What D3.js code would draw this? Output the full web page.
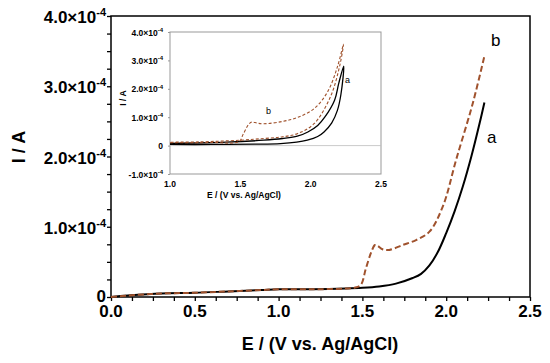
<!DOCTYPE html>
<html>
<head>
<meta charset="utf-8">
<script src="https://cdn.jsdelivr.net/npm/d3@7"></script>
<style>
  body { margin: 0; background: #fff; }
  svg { display: block; }
  text { font-family: "Liberation Sans", Arial, sans-serif; font-weight: bold; fill: #000; }
</style>
</head>
<body>
<div id="vis"></div>
<script>
// main plot, curve a (black) and b (red dashed); current in units of 1e-4 A
var a_E = [0, 0.1, 0.3, 0.5, 0.7, 0.9, 1.0, 1.2, 1.4, 1.5, 1.6, 1.7, 1.8, 1.85, 1.9, 1.95, 2.0, 2.05, 2.1, 2.15, 2.2, 2.228];
var a_I = [0, 0.02, 0.05, 0.06, 0.08, 0.1, 0.11, 0.11, 0.12, 0.13, 0.15, 0.19, 0.27, 0.33, 0.45, 0.64, 0.91, 1.22, 1.58, 2.0, 2.48, 2.77];
var b_E = [0, 0.1, 0.3, 0.5, 0.7, 0.9, 1.0, 1.2, 1.4, 1.45, 1.49, 1.52, 1.55, 1.575, 1.59, 1.62, 1.66, 1.74, 1.82, 1.9, 1.98, 2.06, 2.16, 2.228];
var b_I = [0, 0.02, 0.05, 0.06, 0.08, 0.1, 0.11, 0.11, 0.12, 0.13, 0.17, 0.4, 0.62, 0.74, 0.73, 0.68, 0.67, 0.74, 0.81, 0.93, 1.29, 1.96, 2.77, 3.43];

// inset: full CV loops (forward then reverse)
var ia_E = [1.0, 1.3, 1.6, 1.786, 1.9, 1.976, 2.05, 2.095, 2.15, 2.19, 2.215, 2.235, 2.2, 2.17, 2.1, 2.05, 1.98, 1.905, 1.8, 1.667, 1.4, 1.0];
var ia_I = [0.04, 0.04, 0.05, 0.07, 0.12, 0.19, 0.32, 0.48, 0.8, 1.24, 1.8, 2.8, 2.2, 1.6, 1.0, 0.71, 0.48, 0.33, 0.25, 0.19, 0.12, 0.08];
var ib_E = [1.0, 1.3, 1.49, 1.52, 1.56, 1.583, 1.62, 1.667, 1.8, 1.905, 2.024, 2.12, 2.19, 2.233, 2.21, 2.14, 2.024, 1.905, 1.8, 1.667, 1.5, 1.2, 1.0];
var ib_I = [0.1, 0.11, 0.14, 0.4, 0.75, 0.83, 0.79, 0.77, 0.85, 0.99, 1.30, 1.89, 2.77, 3.57, 2.89, 1.71, 0.77, 0.42, 0.31, 0.25, 0.19, 0.13, 0.12];

var x_ticks = [0, 0.5, 1.0, 1.5, 2.0, 2.5];
var y_ticks = [0, 1, 2, 3, 4];
var ix_ticks = [1.0, 1.5, 2.0, 2.5];
var iy_ticks = [-1, 0, 1, 2, 3, 4];

function zip(xs, ys) { return xs.map(function(v, i) { return [v, ys[i]]; }); }

var width = 550, height = 363;
var svg = d3.select("#vis").append("svg").attr("width", width).attr("height", height);

// ---------- main plot ----------
var x = d3.scaleLinear().domain([0, 2.5]).range([111, 530]);
var y = d3.scaleLinear().domain([0, 4]).range([297, 16]);

// minor ticks
svg.append("g").attr("transform", "translate(0,297)")
  .call(d3.axisBottom(x).tickValues(d3.range(0, 2.5001, 0.125)).tickSize(4).tickFormat(""))
  .call(function(g) { g.select(".domain").remove(); g.selectAll("line").attr("stroke-width", 1.3); });
svg.append("g").attr("transform", "translate(111,0)")
  .call(d3.axisLeft(y).tickValues(d3.range(0, 4.001, 0.25)).tickSize(4).tickFormat(""))
  .call(function(g) { g.select(".domain").remove(); g.selectAll("line").attr("stroke-width", 1.3); });

// frame
svg.append("rect").attr("x", 111).attr("y", 16).attr("width", 419).attr("height", 281)
  .attr("fill", "none").attr("stroke", "#000").attr("stroke-width", 1.5);

// x tick labels
svg.selectAll(".xl").data(x_ticks).enter().append("text")
  .attr("x", function(d) { return x(d); }).attr("y", 317)
  .attr("text-anchor", "middle").style("font-size", "17px")
  .text(function(d) { return d.toFixed(1); });

// y tick labels
y_ticks.forEach(function(d) {
  var t = svg.append("text").attr("x", 106).attr("y", d === 0 ? y(d) + 5 : y(d) + 7)
    .attr("text-anchor", "end").style("font-size", "17px");
  if (d === 0) { t.text("0"); return; }
  t.append("tspan").text(d.toFixed(1) + "\u00d710");
  t.append("tspan").attr("dy", -7).style("font-size", "11px").text("-4");
});

svg.append("text").attr("transform", "translate(25,147) rotate(-90)")
  .attr("text-anchor", "middle").style("font-size", "18px").text("I / A");
svg.append("text").attr("x", 320).attr("y", 350)
  .attr("text-anchor", "middle").style("font-size", "18px").text("E / (V vs. Ag/AgCl)");

var line = d3.line().x(function(d) { return x(d[0]); }).y(function(d) { return y(d[1]); }).curve(d3.curveCatmullRom);

svg.append("path").datum(zip(a_E, a_I)).attr("d", line)
  .attr("fill", "none").attr("stroke", "#000").attr("stroke-width", 2);
svg.append("path").datum(zip(b_E, b_I)).attr("d", line)
  .attr("fill", "none").attr("stroke", "#a0522d").attr("stroke-width", 2).attr("stroke-dasharray", "6,3");

svg.append("text").attr("x", 491).attr("y", 46).style("font-size", "17px").style("font-weight", "normal").text("b");
svg.append("text").attr("x", 487).attr("y", 143).style("font-size", "17px").style("font-weight", "normal").text("a");

// ---------- inset ----------
var ix = d3.scaleLinear().domain([1.0, 2.5]).range([170, 381]);
var iy = d3.scaleLinear().domain([-1, 4]).range([174, 32]);

svg.append("rect").attr("x", 170).attr("y", 32).attr("width", 211).attr("height", 142)
  .attr("fill", "#fff").attr("stroke", "#999").attr("stroke-width", 1);

svg.append("line").attr("x1", ix(1.0)).attr("x2", ix(2.5)).attr("y1", iy(0)).attr("y2", iy(0))
  .attr("stroke", "#bbb").attr("stroke-width", 0.8);

svg.append("g").attr("transform", "translate(170,0)")
  .call(d3.axisLeft(iy).tickValues(iy_ticks).tickSize(2).tickFormat(""))
  .call(function(g) { g.select(".domain").remove(); g.selectAll("line").attr("stroke", "#999"); });

svg.selectAll(".ixl").data(ix_ticks).enter().append("text")
  .attr("x", function(d) { return ix(d); }).attr("y", 187)
  .attr("text-anchor", "middle").style("font-size", "8.5px")
  .text(function(d) { return d.toFixed(1); });

iy_ticks.forEach(function(d) {
  var t = svg.append("text").attr("x", 163).attr("y", iy(d) + 3.5)
    .attr("text-anchor", "end").style("font-size", "8.5px");
  if (d === 0) { t.text("0"); return; }
  t.append("tspan").text(d.toFixed(1) + "\u00d710");
  t.append("tspan").attr("dy", -3.5).style("font-size", "6px").text("-4");
});

svg.append("text").attr("transform", "translate(126,98) rotate(-90)")
  .attr("text-anchor", "middle").style("font-size", "8.5px").text("I / A");
svg.append("text").attr("x", 244).attr("y", 198)
  .attr("text-anchor", "middle").style("font-size", "8.5px").text("E / (V vs. Ag/AgCl)");

var iline = d3.line().x(function(d) { return ix(d[0]); }).y(function(d) { return iy(d[1]); }).curve(d3.curveCatmullRom);

svg.append("path").datum(zip(ia_E, ia_I)).attr("d", iline)
  .attr("fill", "none").attr("stroke", "#000").attr("stroke-width", 1.3);
svg.append("path").datum(zip(ib_E, ib_I)).attr("d", iline)
  .attr("fill", "none").attr("stroke", "#a0522d").attr("stroke-width", 1.1).attr("stroke-dasharray", "3,2");

svg.append("text").attr("x", 266).attr("y", 114).style("font-size", "9px").style("font-weight", "normal").text("b");
svg.append("text").attr("x", 345).attr("y", 83).style("font-size", "9px").style("font-weight", "normal").text("a");
</script>
</body>
</html>
